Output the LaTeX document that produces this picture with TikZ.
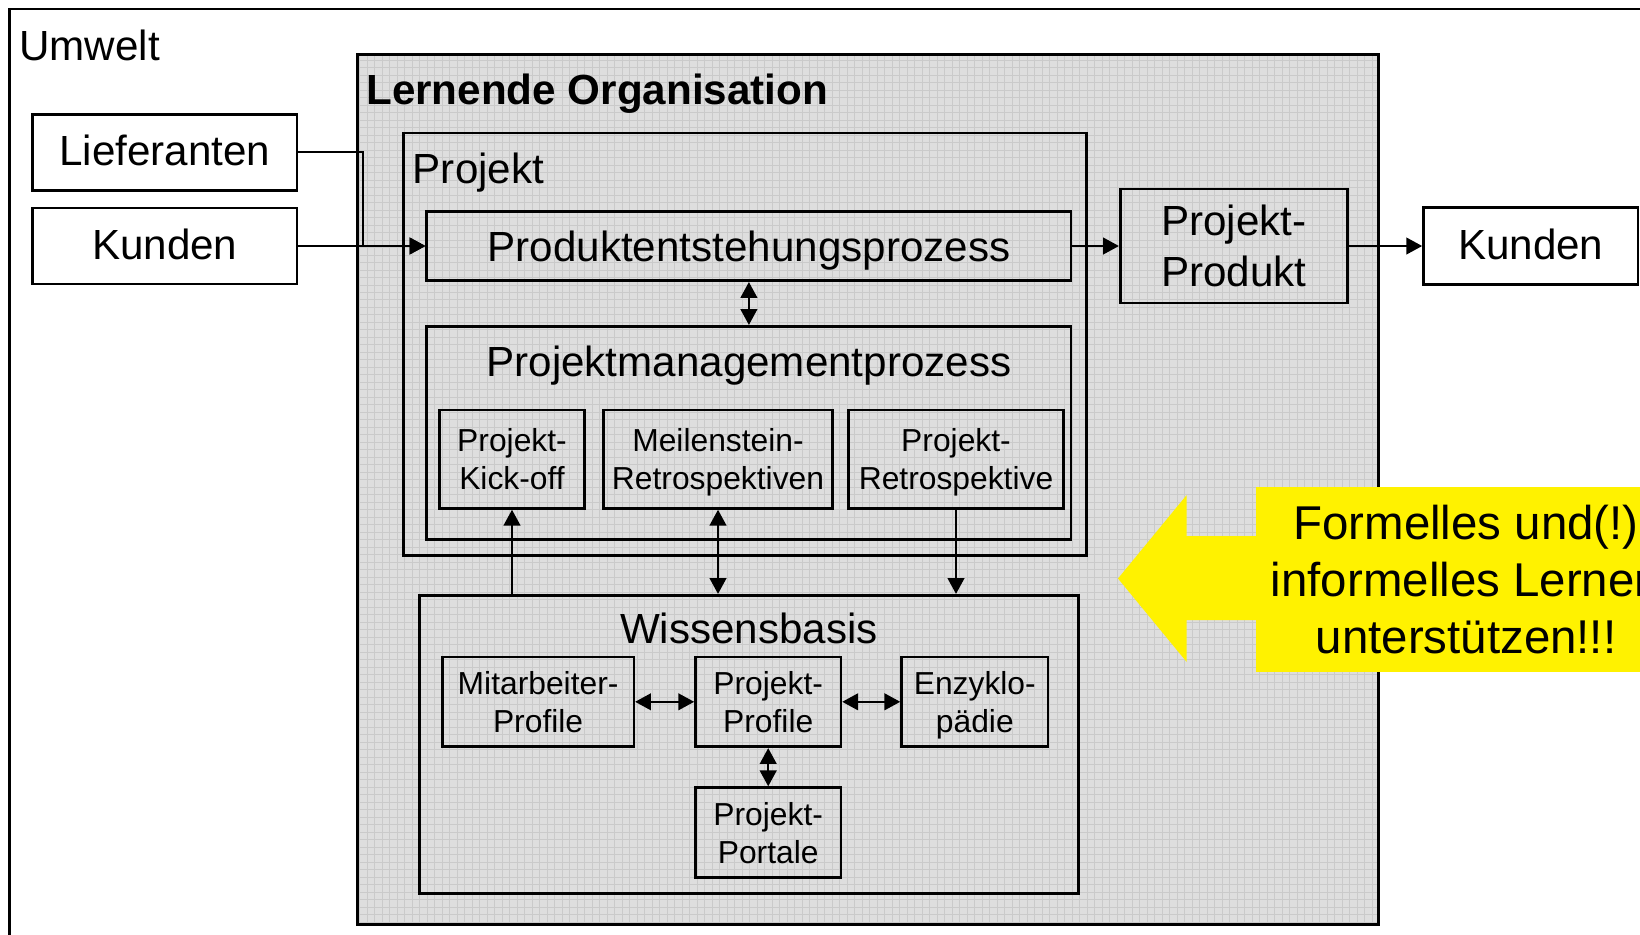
\documentclass[tikz,border=0pt]{standalone}
\usepackage{fontspec}
\setmainfont{Liberation Sans}
\usetikzlibrary{arrows.meta,positioning}

\definecolor{orggray}{RGB}{222,222,222}
\definecolor{orggrid}{RGB}{202,202,202}

\begin{document}
\begin{tikzpicture}[
  x=0.02cm, y=0.02cm,
  >={Triangle[length=9pt,width=9.5pt]},
  box/.style={rectangle, draw, line width=1.5pt, inner sep=0pt, align=center, font=\fontsize{24}{29}\selectfont},
  smallbox/.style={box, minimum height=1.8cm, text depth=0pt, font=\fontsize{18.1}{21.5}\selectfont},
  whitebox/.style={box, fill=white, minimum height=1.52cm, text depth=0.2em},
  heading/.style={inner sep=0pt, font=\fontsize{24}{29}\selectfont},
  link/.style={line width=1.1pt}
]

% Frame
\useasboundingbox (0,0) rectangle (1640,-934);
\clip (0,0) rectangle (1640,-934);
\draw[line width=1.5pt] (9.5,-9) rectangle (1700,-1000);
\node[heading, anchor=base west] (umwelt) at (19,-60.5) {Umwelt};

% Lernende Organisation
\node[rectangle, fill=orggray, minimum width=20.4cm, minimum height=17.4cm] (lernend) at (868,-489.5) {};
\begin{scope}
  \clip (lernend.south west) rectangle (lernend.north east);
  \draw[orggrid, line width=0.5pt, step=0.15cm] (lernend.south west) grid (lernend.north east);
\end{scope}
\draw[line width=1.5pt] (lernend.south west) rectangle (lernend.north east);
\node[heading, font=\fontsize{24}{29}\selectfont\bfseries, anchor=base west] (lotitle) at (366,-104) {Lernende Organisation};

% Projekt
\node[box, minimum width=13.66cm, minimum height=8.45cm] (projekt) at (745.2,-344.2) {};
\node[heading, anchor=base west] (pjtitle) at (412.5,-183) {Projekt};
\node[box, minimum width=12.89cm, minimum height=1.39cm, text depth=0pt] (pep) at (748.9,-246) {Produktentstehungsprozess};
\node[box, minimum width=12.89cm, minimum height=4.27cm] (pmp) at (748.9,-433) {};
\node[heading, anchor=base] (pmtitle) at (748.9,-376.5) {Projektmanagementprozess};
\node[smallbox, minimum width=2.91cm, minimum height=1.97cm] (kickoff) at (512,-459.2) {Projekt-\\Kick-off};
\node[smallbox, minimum width=4.58cm, minimum height=1.97cm] (meilen) at (718,-459.2) {Meilenstein-\\Retrospektiven};
\node[smallbox, minimum width=4.31cm, minimum height=1.97cm] (retro) at (956,-459.2) {Projekt-\\Retrospektive};

% Wissensbasis
\node[box, minimum width=13.18cm, minimum height=5.96cm] (wissen) at (748.9,-744.2) {};
\node[heading, anchor=base] (wbtitle) at (748.9,-643) {Wissensbasis};
\node[smallbox, minimum width=3.83cm] (mitarb) at (538.1,-701.8) {Mitarbeiter-\\Profile};
\node[smallbox, minimum width=2.91cm] (pprof) at (768.2,-701.8) {Projekt-\\Profile};
\node[smallbox, minimum width=2.93cm] (enzy) at (974.8,-701.8) {Enzyklo-\\pädie};
\node[smallbox, minimum width=2.91cm] (portale) at (768.2,-832.6) {Projekt-\\Portale};

% Umwelt
\node[whitebox, minimum width=5.29cm] (lief) at (164.7,-152.2) {Lieferanten};
\node[whitebox, minimum width=5.29cm] (kundenL) at (164.7,-246) {Kunden};
\node[box, minimum width=4.54cm, minimum height=2.28cm, text depth=-0.2em] (produkt) at (1233.7,-246) {Projekt-\\Produkt};
\node[whitebox, minimum width=4.29cm, minimum height=1.53cm] (kundenR) at (1530.7,-246) {Kunden};

% Arrows
\draw[->, link] (lief.east) -- ++(65,0) |- (pep.west);
\draw[->, link] (kundenL.east) -- (pep.west);
\draw[->, link] (pep.east) -- (produkt.west);
\draw[->, link] (produkt.east) -- (kundenR.west);
\draw[<->, link] (pep.south) -- (pmp.north);
\draw[->, link] (kickoff.south |- wissen.north) -- (kickoff.south);
\draw[<->, link] (meilen.south) -- (meilen.south |- wissen.north);
\draw[->, link] (retro.south) -- (retro.south |- wissen.north);
\draw[<->, link] (mitarb.east) -- (pprof.west);
\draw[<->, link] (pprof.east) -- (enzy.west);
\draw[<->, link] (pprof.south) -- (portale.north);

% Hint arrow
\fill[yellow] (1118,-578.5) -- (1186.7,-495) -- (1186.7,-536) -- (1260,-536) -- (1260,-620) -- (1186.7,-620) -- (1186.7,-662) -- cycle;
\node[rectangle, fill=yellow, minimum width=8.4cm, minimum height=3.7cm, align=center, font=\fontsize{27}{32.4}\selectfont] (hint) at (1466,-579.5) {Formelles und(!)\\informelles Lernen\\unterstützen!!!};

\end{tikzpicture}
\end{document}
